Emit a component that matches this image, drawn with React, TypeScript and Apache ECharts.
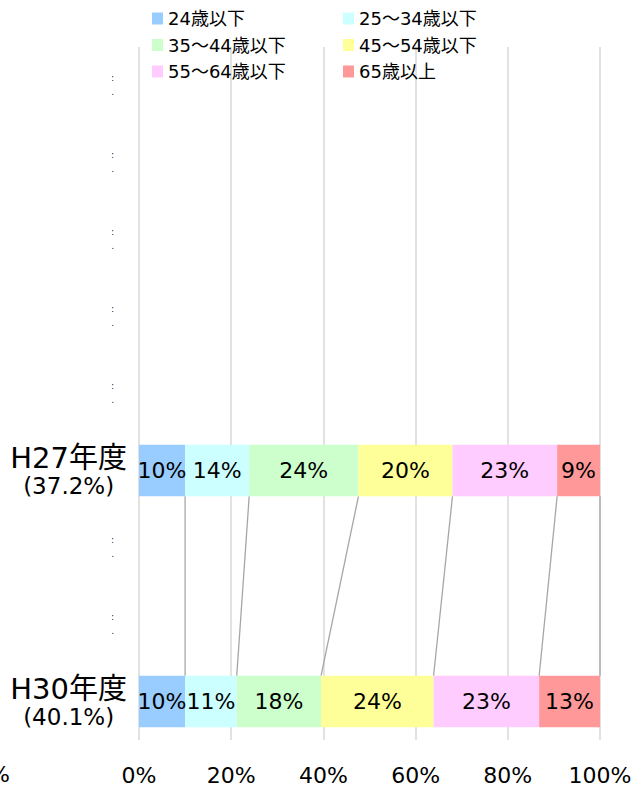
import React, { useEffect, useRef } from "react";
import * as echarts from "echarts";

const FONT = "'DejaVu Sans', 'Noto Sans CJK JP', sans-serif";

// Category rows (blank rows have no data)
const categories = ["", "", "", "", "", "H27年度", "", "", "H30年度"];
const rates = ["", "", "", "", "", "(37.2%)", "", "", "(40.1%)"];

const seriesNames = [
  "24歳以下",
  "25～34歳以下",
  "35～44歳以下",
  "45～54歳以下",
  "55～64歳以下",
  "65歳以上",
];
const seriesColors = ["#99CCFF", "#CCFFFF", "#CCFFCC", "#FFFF99", "#FFCCFF", "#FF9999"];

// percentage shares per series: [H27, H30]
const age24: number[] = [10.0, 10.0];
const age25_34: number[] = [13.9, 11.2];
const age35_44: number[] = [23.7, 18.3];
const age45_54: number[] = [20.4, 24.4];
const age55_64: number[] = [22.7, 22.9];
const age65: number[] = [9.3, 13.2];
const seriesValues = [age24, age25_34, age35_44, age45_54, age55_64, age65];

const dataRows = [5, 8]; // category indexes holding H27, H30

const xTicks = { min: 0, max: 100, interval: 20 };

export default function App() {
  const ref = useRef<HTMLDivElement>(null);
  useEffect(() => {
    document.body.style.margin = "0";
    if (!ref.current) return;
    const chart = echarts.init(ref.current, null, { renderer: "svg" });

    const barSeries = seriesNames.map((name, si) => {
      const data: (number | null)[] = categories.map(() => null);
      dataRows.forEach((row, k) => {
        data[row] = seriesValues[si][k];
      });
      return {
        name,
        type: "bar",
        stack: "total",
        barWidth: "67%",
        itemStyle: { color: seriesColors[si] },
        label: {
          show: true,
          position: "inside",
          color: "#000",
          fontSize: 22,
          fontFamily: FONT,
          formatter: (p: any) => (p.value == null ? "" : Math.round(p.value) + "%"),
        },
        data,
      };
    });

    // cumulative boundaries for series lines
    const connectors: number[][] = [];
    let c0 = 0;
    let c1 = 0;
    seriesValues.forEach((v) => {
      c0 += v[0];
      c1 += v[1];
      connectors.push([c0, dataRows[0], c1, dataRows[1]]);
    });

    const lineSeries = {
      type: "custom",
      silent: true,
      z: 1,
      encode: { x: [0, 2], y: [1, 3] },
      renderItem: (params: any, api: any) => {
        const p1 = api.coord([api.value(0), api.value(1)]);
        const p2 = api.coord([api.value(2), api.value(3)]);
        const band = api.size([0, 1])[1];
        const half = (band * 0.67) / 2;
        return {
          type: "line",
          shape: { x1: p1[0], y1: p1[1] + half, x2: p2[0], y2: p2[1] - half },
          style: { stroke: "#A6A6A6", lineWidth: 1.3 },
        };
      },
      data: connectors,
    };

    const legendCommon = {
      orient: "vertical",
      top: 3,
      itemWidth: 11,
      itemHeight: 12,
      itemGap: 5.5,
      icon: "rect",
      textStyle: { color: "#000", fontSize: 18, lineHeight: 21, fontFamily: FONT },
    };

    chart.setOption({
      animation: false,
      textStyle: { fontFamily: FONT },
      legend: [
        { ...legendCommon, left: 147, data: [seriesNames[0], seriesNames[2], seriesNames[4]] },
        { ...legendCommon, left: 338, data: [seriesNames[1], seriesNames[3], seriesNames[5]] },
      ],
      grid: { left: 139, right: 37, top: 47, bottom: 47, containLabel: false },
      xAxis: {
        type: "value",
        min: xTicks.min,
        max: xTicks.max,
        interval: xTicks.interval,
        axisLine: { show: false },
        axisTick: { show: false },
        splitLine: { show: true, lineStyle: { color: "#D9D9D9", width: 1.5 } },
        axisLabel: {
          formatter: "{value}%",
          color: "#000",
          fontSize: 22,
          fontFamily: FONT,
          margin: 24,
        },
      },
      yAxis: {
        type: "category",
        inverse: true,
        data: categories,
        axisLine: { show: false },
        axisTick: { show: false },
        axisLabel: {
          margin: 12,
          interval: 0,
          formatter: (value: string, index: number) =>
            value ? `{a|${value}}\n{b|${rates[index]}}` : "{d|:}\n{d|.}",
          rich: {
            a: { fontSize: 29, lineHeight: 30, align: "center", color: "#000", fontFamily: FONT },
            b: { fontSize: 23, lineHeight: 26, align: "center", color: "#000", fontFamily: FONT },
            d: { fontSize: 8, lineHeight: 14, align: "right", color: "#000", padding: [0, 13, 0, 0], fontFamily: FONT },
          },
        },
      },
      graphic: [
        {
          type: "text",
          left: -11,
          top: 763,
          style: { text: "%", fontSize: 22, fill: "#000", fontFamily: FONT },
        },
      ],
      series: [...barSeries, lineSeries],
    });
    return () => chart.dispose();
  }, []);
  return <div ref={ref} style={{ width: 637, height: 787 }} />;
}
